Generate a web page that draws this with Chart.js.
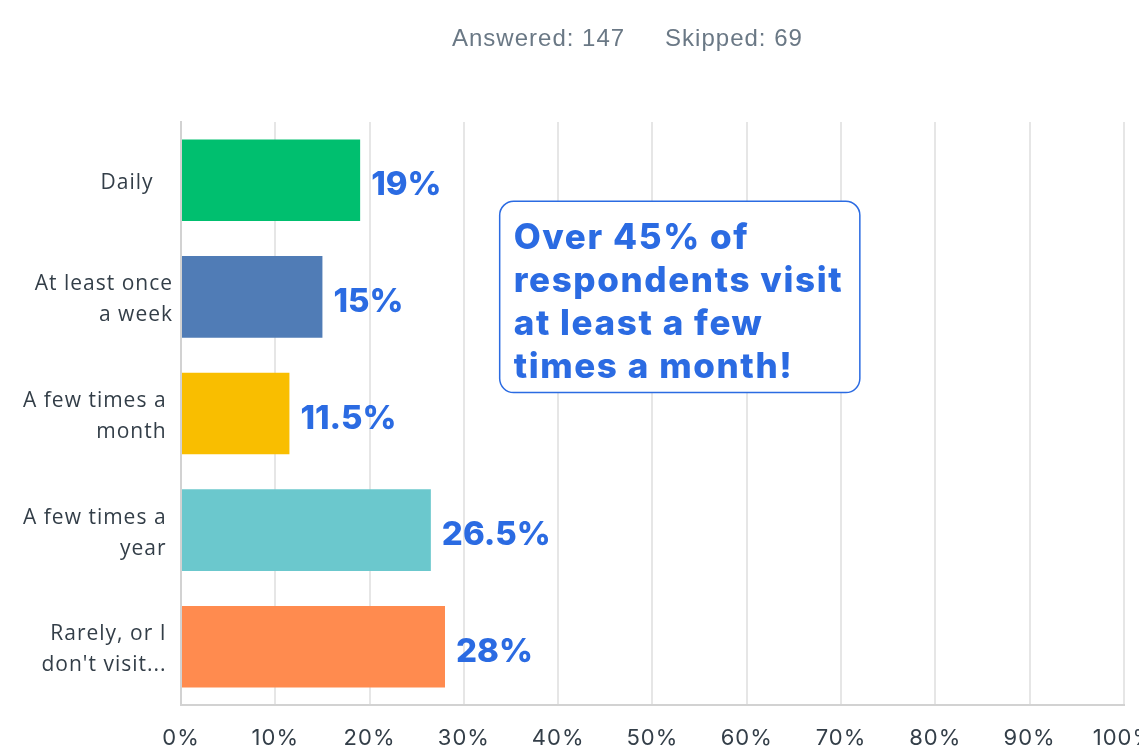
<!DOCTYPE html>
<html>
<head>
<meta charset="utf-8">
<script src="https://cdn.jsdelivr.net/npm/chart.js@4.4.0/dist/chart.umd.min.js"></script>
<style>
    html, body { margin: 0; padding: 0; background: #fff; overflow: hidden; }
    #wrap { position: relative; width: 1173px; height: 756px; }
    #summary {
        position: absolute; left: 452px; top: 24px;
        font-family: "Liberation Sans", Arial, sans-serif; font-size: 24px;
        letter-spacing: 1px; color: #6a7885; white-space: nowrap;
    }
    #summary span + span { margin-left: 40px; }
</style>
</head>
<body>
<div id="wrap">
    <div id="summary"><span>Answered: 147</span><span>Skipped: 69</span></div>
    <canvas id="chart" width="1173" height="756"></canvas>
</div>
<script>
// Chart data
const categories = [
    ['Daily   '],
    ['At least once', 'a week'],
    ['A few times a ', 'month '],
    ['A few times a ', 'year '],
    ['Rarely, or I ', "don't visit... "]
];
const percentages = [19, 15, 11.5, 26.5, 28];
const barColors = ['#00bf6f', '#507cb6', '#f9be00', '#6bc8cd', '#ff8b4f'];
const calloutLines = ['Over 45% of', 'respondents visit', 'at least a few', 'times a month!'];

const labelBlue = '#2b6be2';
const inkColor = '#333e48';

// Wider letter spacing for the axis labels only
const axisSpacing = {
    id: 'axisSpacing',
    beforeDraw(chart) { chart.ctx.letterSpacing = '1px'; },
    beforeDatasetsDraw(chart) { chart.ctx.letterSpacing = '0px'; }
};

// Percentage labels at the end of each bar
const valueLabels = {
    id: 'valueLabels',
    afterDatasetsDraw(chart) {
        const ctx = chart.ctx;
        const meta = chart.getDatasetMeta(0);
        ctx.save();
        ctx.font = '800 33px Inter';
        ctx.fillStyle = labelBlue;
        ctx.textBaseline = 'alphabetic';
        meta.data.forEach((bar, i) => {
            ctx.fillText(percentages[i] + '%', bar.x + 11, bar.y + 15);
        });
        ctx.restore();
    }
};

// Callout box
const callout = {
    id: 'callout',
    afterDraw(chart) {
        const ctx = chart.ctx;
        const { x, y } = chart.scales;
        const left = x.getPixelForValue(33.8);
        const right = x.getPixelForValue(72);
        const top = y.getPixelForValue(0.18);
        const bottom = y.getPixelForValue(1.82);
        ctx.save();
        ctx.beginPath();
        ctx.roundRect(left, top, right - left, bottom - top, 14);
        ctx.fillStyle = '#fff';
        ctx.fill();
        ctx.lineWidth = 1.5;
        ctx.strokeStyle = labelBlue;
        ctx.stroke();
        ctx.font = '800 35px Inter';
        ctx.letterSpacing = '1.6px';
        ctx.fillStyle = labelBlue;
        ctx.textBaseline = 'alphabetic';
        calloutLines.forEach((line, i) => {
            ctx.fillText(line, left + 14, top + 48 + i * 43);
        });
        ctx.restore();
    }
};

new Chart(document.getElementById('chart').getContext('2d'), {
    type: 'bar',
    data: {
        labels: categories,
        datasets: [{
            data: percentages,
            backgroundColor: barColors,
            borderWidth: 0,
            barPercentage: 0.7,
            categoryPercentage: 1
        }]
    },
    options: {
        indexAxis: 'y',
        responsive: false,
        animation: false,
        layout: { padding: { top: 122, right: 0, left: 0, bottom: 0 } },
        plugins: {
            legend: { display: false },
            tooltip: { enabled: false }
        },
        scales: {
            x: {
                min: 0,
                max: 100,
                ticks: {
                    stepSize: 10,
                    callback: v => v + '%',
                    padding: 20,
                    color: inkColor,
                    font: { family: 'Inter', size: 22 }
                },
                grid: { color: '#e6e6e6', lineWidth: 2, drawTicks: false },
                border: { color: '#d2d2d2', width: 2 },
                afterFit: s => { s.height = 51; }
            },
            y: {
                ticks: {
                    padding: 8,
                    labelOffset: 3,
                    color: inkColor,
                    font: { family: 'Open Sans', size: 21, lineHeight: 1.48 }
                },
                grid: { display: false, drawTicks: false },
                border: { color: '#d2d2d2', width: 2 },
                afterFit: s => { s.width = 181; }
            }
        }
    },
    plugins: [axisSpacing, valueLabels, callout]
});
</script>
</body>
</html>
